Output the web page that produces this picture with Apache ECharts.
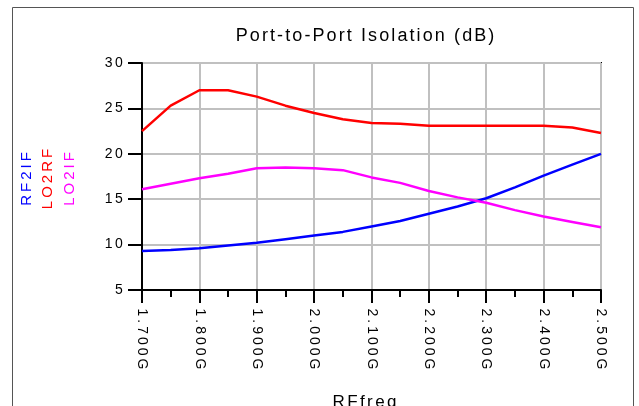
<!DOCTYPE html>
<html>
<head>
<meta charset="utf-8">
<script src="https://cdn.jsdelivr.net/npm/echarts@6/dist/echarts.min.js"></script>
<style>
  html, body { margin: 0; padding: 0; background: #fff; }
  #chart { width: 639px; height: 406px; }
</style>
</head>
<body>
<div id="chart"></div>
<script>
// RF frequency in GHz
var freqs = [1.70, 1.75, 1.80, 1.85, 1.90, 1.95, 2.00, 2.05, 2.10, 2.15, 2.20, 2.25, 2.30, 2.35, 2.40, 2.45, 2.50];
var rf2if = [9.3, 9.4, 9.6, 9.9, 10.2, 10.6, 11.0, 11.4, 12.0, 12.6, 13.4, 14.2, 15.1, 16.3, 17.6, 18.8, 20.0];
var lo2rf = [22.5, 25.3, 27.0, 27.0, 26.3, 25.3, 24.5, 23.8, 23.4, 23.3, 23.1, 23.1, 23.1, 23.1, 23.1, 22.9, 22.3];
var lo2if = [16.1, 16.7, 17.3, 17.8, 18.4, 18.5, 18.4, 18.2, 17.4, 16.8, 15.9, 15.2, 14.6, 13.8, 13.1, 12.5, 11.9];
var seriesNames = ['RF2IF', 'LO2RF', 'LO2IF'];
var seriesColors = ['#0000ff', '#ff0000', '#ff00ff'];

function pairs(ys) {
  return freqs.map(function (f, i) { return [f, ys[i]]; });
}

// the original font is widely spaced: wrap every char in a padded rich token
function spaced(str, key) {
  return str.split('').map(function (c) { return '{' + key + '|' + c + '}'; }).join('');
}

var chart = echarts.init(document.getElementById('chart'));
var font = 'Liberation Sans';

var legendTexts = seriesNames.map(function (name, i) {
  var rich = {};
  rich['l' + i] = { fontFamily: font, fontSize: 15, fill: seriesColors[i], padding: [0, 1.5, 0, 1.5] };
  return {
    type: 'text',
    x: 34 + i * 21.5,
    y: 179,
    rotation: Math.PI / 2,
    style: {
      text: spaced(name, 'l' + i),
      rich: rich,
      fill: seriesColors[i],
      font: '15px ' + font,
      align: 'center',
      verticalAlign: 'bottom'
    }
  };
});

chart.setOption({
  animation: false,
  title: {
    text: spaced('Port-to-Port Isolation (dB)', 't'),
    left: 360,
    top: 22,
    textAlign: 'center',
    textStyle: {
      fontFamily: font, fontSize: 18, fontWeight: 'normal', color: '#000',
      rich: { t: { fontFamily: font, fontSize: 18, color: '#000', padding: [0, 1.05, 0, 1.05] } }
    }
  },
  grid: {
    left: 142, top: 63, right: 38, bottom: 116,
    containLabel: false,
    outerBoundsMode: 'none',
    show: true, borderColor: '#000', borderWidth: 2
  },
  graphic: [{
    type: 'rect',
    shape: { x: 12.5, y: 7.5, width: 621, height: 420 },
    style: { fill: 'none', stroke: '#555', lineWidth: 1 },
    silent: true
  }].concat(legendTexts),
  xAxis: {
    type: 'value',
    min: 1.7, max: 2.5, interval: 0.1,
    name: spaced('RFfreq', 'n'),
    nameLocation: 'middle',
    nameGap: 104,
    nameTextStyle: {
      fontFamily: font, fontSize: 17, color: '#000',
      padding: [0, 14, 0, 0],
      rich: { n: { fontFamily: font, fontSize: 17, color: '#000', padding: [0, 1.2, 0, 1.2] } }
    },
    axisLine: { onZero: false, lineStyle: { color: '#000', width: 2 } },
    axisTick: { length: 13, lineStyle: { color: '#000', width: 2 } },
    minorTick: { show: true, splitNumber: 2, length: 7, lineStyle: { color: '#000', width: 2 } },
    splitLine: { lineStyle: { color: '#c0c0c0', width: 2 } },
    axisLabel: {
      rotate: -90,
      margin: 17,
      fontFamily: font, fontSize: 14, color: '#000',
      formatter: function (v) { return spaced(v.toFixed(3) + 'G', 'x'); },
      rich: { x: { fontFamily: font, fontSize: 14, color: '#000', padding: [0, 1.5, 0, 1.5] } }
    }
  },
  yAxis: {
    type: 'value',
    min: 5, max: 30, interval: 5,
    axisLine: { show: true, lineStyle: { color: '#000', width: 2 } },
    axisTick: { show: true, length: 14, lineStyle: { color: '#000', width: 2 } },
    splitLine: { lineStyle: { color: '#c0c0c0', width: 2 } },
    axisLabel: {
      margin: 18,
      fontFamily: font, fontSize: 14, color: '#000',
      formatter: function (v) { return spaced(String(v), 'y'); },
      rich: { y: { fontFamily: font, fontSize: 14, color: '#000', padding: [0, 1.2, 0, 1.2] } }
    }
  },
  series: seriesNames.map(function (name, i) {
    return {
      name: name,
      type: 'line',
      data: pairs([rf2if, lo2rf, lo2if][i]),
      showSymbol: false,
      lineStyle: { color: seriesColors[i], width: 2.5 },
      itemStyle: { color: seriesColors[i] }
    };
  })
});
</script>
</body>
</html>
